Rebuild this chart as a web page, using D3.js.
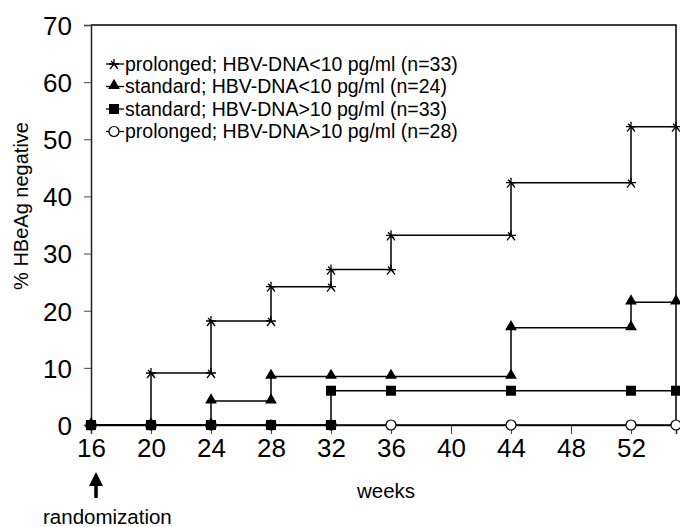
<!DOCTYPE html>
<html>
<head>
<meta charset="utf-8">
<script src="https://cdn.jsdelivr.net/npm/d3@7"></script>
<style>
  body { margin: 0; background: #fff; }
  text { font-family: "Liberation Sans", Arial, sans-serif; fill: #000; }
</style>
</head>
<body>
<div id="chart"></div>
<script>
// weeks at which the curves step
var weeks = [16, 20, 24, 28, 32, 36, 44, 52, 55];
var xTicks = [16, 20, 24, 28, 32, 36, 40, 44, 48, 52];
var yTicks = [0, 10, 20, 30, 40, 50, 60, 70];

var prolongedLow = [0, 9.1, 18.2, 24.2, 27.2, 33.2, 42.4, 52.2, 52.2];
var standardLow = [0, 0, 4.2, 8.5, 8.5, 8.5, 17, 21.5, 21.5];
var standardHigh = [0, 0, 0, 0, 6, 6, 6, 6, 6];
var prolongedHigh = [0, 0, 0, 0, 0, 0, 0, 0, 0];

var seriesNames = [
  "prolonged; HBV-DNA<10 pg/ml (n=33)",
  "standard; HBV-DNA<10 pg/ml (n=24)",
  "standard; HBV-DNA>10 pg/ml (n=33)",
  "prolonged; HBV-DNA>10 pg/ml (n=28)"
];
var seriesSymbols = ["star", "triangle", "square", "circle"];
var seriesValues = [prolongedLow, standardLow, standardHigh, prolongedHigh];

var w = 680, h = 527;
var padLeft = 91, padRight = 676, padTop = 25, padBottom = 425;

var svg = d3.select("#chart").append("svg")
  .attr("width", w)
  .attr("height", h);

var xScale = d3.scaleLinear().domain([16, 55]).range([padLeft, padRight]);
var yScale = d3.scaleLinear().domain([0, 70]).range([padBottom, padTop]);

// frame top and right
svg.append("path")
  .attr("d", "M" + padLeft + "," + padTop + "H" + padRight + "V" + padBottom)
  .attr("fill", "none")
  .attr("stroke", "#000")
  .attr("stroke-width", 1.5);

// axes
var yAxis = d3.axisLeft(yScale).tickValues(yTicks).tickSize(7).tickPadding(12);
var gy = svg.append("g").attr("transform", "translate(" + padLeft + ",0)").call(yAxis);
gy.select(".domain").attr("stroke-width", 1.5).attr("stroke", "#222");
gy.selectAll(".tick line").attr("stroke", "#444");
gy.selectAll(".tick text")
  .style("font-size", "26px")
  .style("font-family", "'Liberation Sans', Arial, sans-serif")
  .attr("dy", "0.36em");

var xAxis = d3.axisBottom(xScale).tickValues(xTicks).tickSize(9).tickPadding(4);
var gx = svg.append("g").attr("transform", "translate(0," + padBottom + ")").call(xAxis);
gx.select(".domain").attr("stroke-width", 1.5).attr("stroke", "#222");
gx.selectAll(".tick line").attr("stroke", "#444");
gx.selectAll(".tick text")
  .style("font-size", "26px")
  .style("font-family", "'Liberation Sans', Arial, sans-serif")
  .attr("dy", "0.72em");

// axis labels
svg.append("text")
  .attr("transform", "translate(28,206) rotate(-90)")
  .attr("text-anchor", "middle")
  .style("font-size", "20px")
  .text("% HBeAg negative");

svg.append("text")
  .attr("x", 386)
  .attr("y", 498)
  .attr("text-anchor", "middle")
  .style("font-size", "20.5px")
  .text("weeks");

svg.append("text")
  .attr("x", 43)
  .attr("y", 524)
  .style("font-size", "20.5px")
  .text("randomization");

// arrow pointing at the randomization week
var ax = xScale(16) + 5;
svg.append("line")
  .attr("x1", ax).attr("x2", ax)
  .attr("y1", 498).attr("y2", 482)
  .attr("stroke", "#000")
  .attr("stroke-width", 3.5);
svg.append("path")
  .attr("d", "M" + (ax - 7) + ",486L" + ax + ",472L" + (ax + 7) + ",486Z")
  .attr("fill", "#000");

// symbol generators
function drawSymbol(g, type, x, y) {
  if (type === "star") {
    var s = 5;
    g.append("path")
      .attr("d", "M" + (x - s) + "," + y + "H" + (x + s) +
        "M" + x + "," + (y - s) + "V" + (y + s * 0.3) +
        "M" + (x - s * 0.8) + "," + (y + s) + "L" + x + "," + y + "L" + (x + s * 0.8) + "," + (y + s) +
        "M" + (x - s * 0.6) + "," + (y - s * 0.6) + "L" + (x + s * 0.6) + "," + (y + s * 0.6))
      .attr("stroke", "#000")
      .attr("stroke-width", 1.3)
      .attr("fill", "none");
  } else if (type === "triangle") {
    g.append("path")
      .attr("d", d3.symbol().type(d3.symbolTriangle).size(60)())
      .attr("transform", "translate(" + x + "," + (y - 1) + ")")
      .attr("fill", "#000");
  } else if (type === "square") {
    g.append("rect")
      .attr("x", x - 5).attr("y", y - 5)
      .attr("width", 10).attr("height", 10)
      .attr("fill", "#000");
  } else {
    g.append("circle")
      .attr("cx", x).attr("cy", y).attr("r", 5)
      .attr("fill", "#fff")
      .attr("stroke", "#000")
      .attr("stroke-width", 1.2);
  }
}

var line = d3.line()
  .x(function(d) { return xScale(d.week); })
  .y(function(d) { return yScale(d.value); })
  .curve(d3.curveStepAfter);

// draw series back to front: circles first so squares sit on top at zero
var order = [3, 2, 1, 0];
order.forEach(function(i) {
  var values = seriesValues[i];
  var pts = weeks.map(function(wk, j) { return { week: wk, value: values[j] }; });
  var g = svg.append("g");
  g.append("path")
    .datum(pts)
    .attr("d", line)
    .attr("fill", "none")
    .attr("stroke", "#000")
    .attr("stroke-width", 1.5);
  pts.forEach(function(p, j) {
    if (j > 0 && values[j - 1] !== p.value) {
      drawSymbol(g, seriesSymbols[i], xScale(p.week), yScale(values[j - 1]));
    }
    drawSymbol(g, seriesSymbols[i], xScale(p.week), yScale(p.value));
  });
});

// legend
var legend = svg.append("g");
seriesNames.forEach(function(name, i) {
  var y = 64 + i * 22.5;
  legend.append("line")
    .attr("x1", 106).attr("x2", 124)
    .attr("y1", y).attr("y2", y)
    .attr("stroke", "#000")
    .attr("stroke-width", 1.3);
  drawSymbol(legend, seriesSymbols[i], 114, y);
  legend.append("text")
    .attr("x", 125)
    .attr("y", y)
    .attr("dy", "0.35em")
    .style("font-size", "19.5px")
    .text(name);
});
</script>
</body>
</html>
